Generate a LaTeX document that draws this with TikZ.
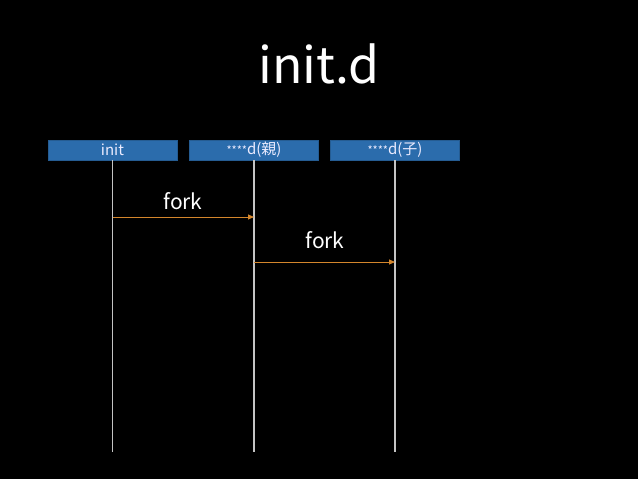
\documentclass[tikz,border=0pt]{standalone}
\usepackage{fontspec}
\setmainfont{Noto Sans CJK JP}
\usetikzlibrary{arrows.meta}
\usetikzlibrary{calc}

\definecolor{boxblue}{RGB}{43,108,172}
\definecolor{forkorange}{RGB}{212,134,44}
\definecolor{lifegray}{RGB}{196,196,196}

\begin{document}
\begin{tikzpicture}[x=1pt, y=-1pt]

% Define styles
\tikzset{
    process/.style={fill=boxblue, draw=boxblue!85!black, line width=0.4pt, minimum width=129pt, minimum height=20pt, inner sep=0pt, text=white!92!blue, font=\fontsize{15}{15}\selectfont},
    lifeline/.style={draw=lifegray, line width=1.3pt},
    forkarrow/.style={draw=forkorange, line width=0.9pt, -{Triangle[length=6pt, width=5pt]}},
    forklabel/.style={text=white, font=\fontsize{21}{21}\selectfont, anchor=base}
}

% background
\fill[black] (0,0) rectangle (638,479);
\useasboundingbox (0,0) rectangle (638,479);

% title
\node[text=white, font=\fontsize{50}{50}\selectfont, anchor=base] (TITLE) at (319,83) {init.d};

% process boxes
\node[process] (INIT) at (112.5,150) {init};
\node[process] (PARENT) at (254,150) {{\fontsize{11}{11}\selectfont ****}d(親)};
\node[process] (CHILD) at (395,150) {{\fontsize{11}{11}\selectfont ****}d(子)};

% bottom ends of lifelines
\coordinate (INITEND) at (INIT.south |- 0,452);
\coordinate (PARENTEND) at (PARENT.south |- 0,452);
\coordinate (CHILDEND) at (CHILD.south |- 0,452);

% lifelines
\draw[lifeline] (INIT.south) -- (INITEND);
\draw[lifeline] (PARENT.south) -- (PARENTEND);
\draw[lifeline] (CHILD.south) -- (CHILDEND);

% points on the lifelines
\coordinate (F1A) at (INIT.south |- 0,217);
\coordinate (F1B) at (PARENT.south |- 0,217);
\coordinate (F2A) at (PARENT.south |- 0,262);
\coordinate (F2B) at (CHILD.south |- 0,262);

% fork arrows
\draw[forkarrow] (F1A) -- (F1B);
\node[forklabel] (FORK1) at (183,209) {fork};

\draw[forkarrow] (F2A) -- (F2B);
\node[forklabel] (FORK2) at (325,248) {fork};

\end{tikzpicture}
\end{document}
